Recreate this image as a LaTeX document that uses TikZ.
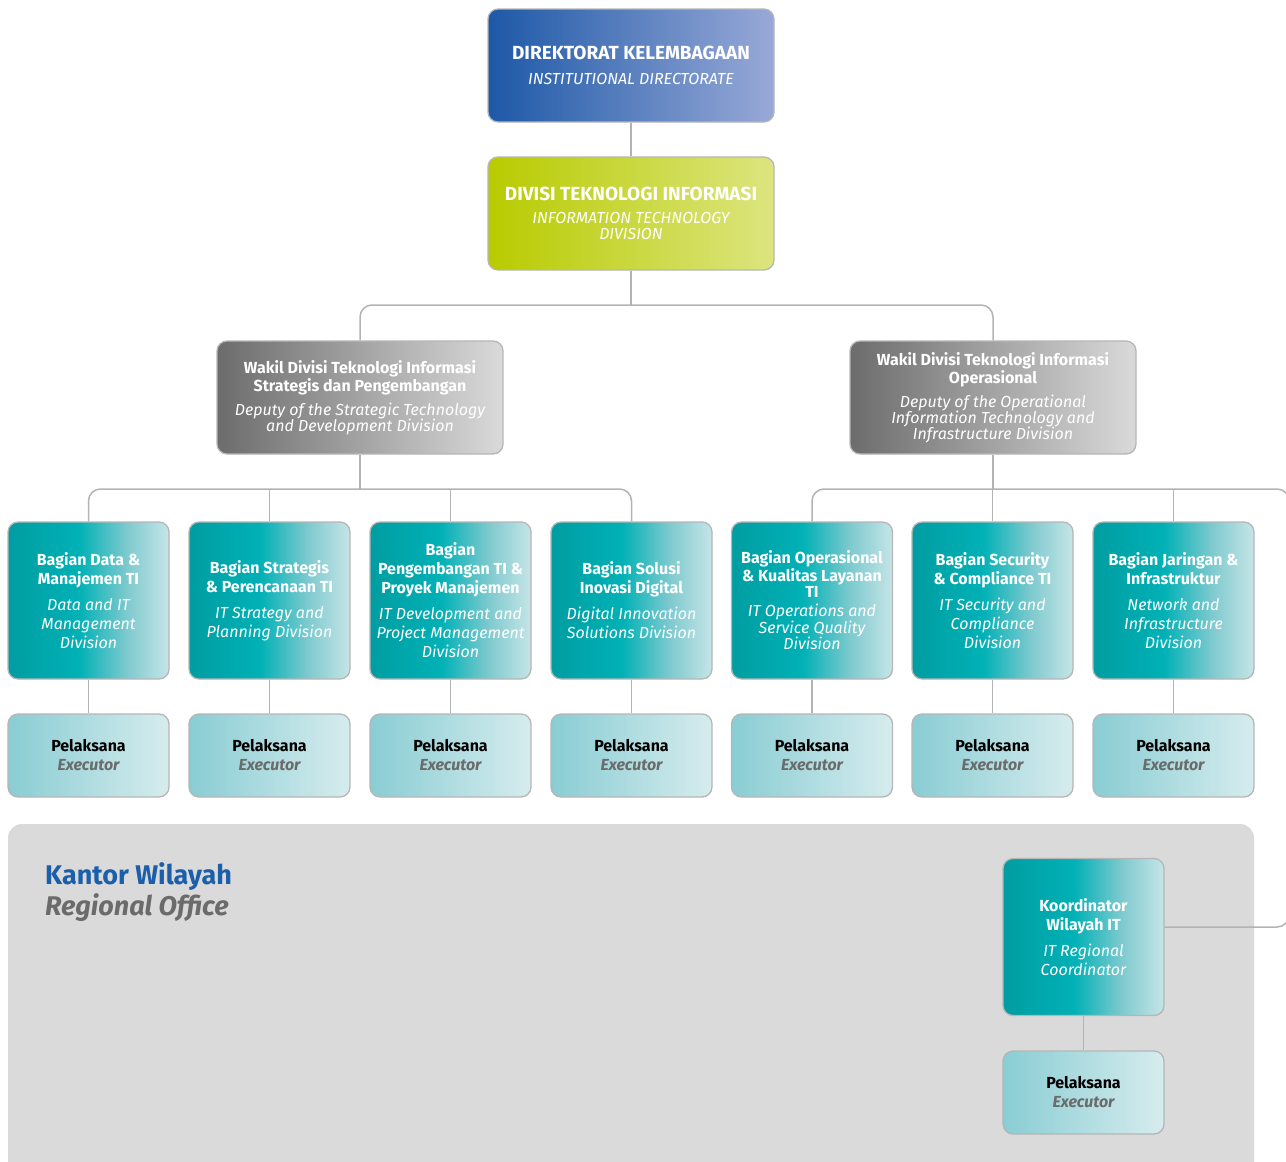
\documentclass[tikz,border=0pt]{standalone}
\usepackage{fontspec}
\setmainfont{Fira Sans}
\usetikzlibrary{calc}

% palette
\definecolor{dirA}{HTML}{1D58A7}
\definecolor{dirB}{HTML}{98A9D7}
\definecolor{grnA}{HTML}{B8CB00}
\definecolor{grnB}{HTML}{DCE57F}
\definecolor{gryA}{HTML}{6C6C6C}
\definecolor{gryB}{HTML}{DADADA}
\definecolor{tlA}{HTML}{009DA1}
\definecolor{tlB}{HTML}{00B1B6}
\definecolor{tlC}{HTML}{7FCACF}
\definecolor{tlD}{HTML}{C6E5E7}
\definecolor{exA}{HTML}{89CDD3}
\definecolor{exB}{HTML}{D6ECEE}
\definecolor{edge}{HTML}{B6B6B6}
\definecolor{wire}{HTML}{B3B3B3}
\definecolor{regbg}{HTML}{DADADA}
\definecolor{regblue}{HTML}{1B5EAA}
\definecolor{txtgray}{HTML}{6B6B6B}

% horizontal colour ramps (25bp..75bp spans the filled path)
\pgfdeclarehorizontalshading{dirshade}{100bp}{color(0bp)=(dirA); color(25bp)=(dirA); color(75bp)=(dirB); color(100bp)=(dirB)}
\pgfdeclarehorizontalshading{grnshade}{100bp}{color(0bp)=(grnA); color(25bp)=(grnA); color(75bp)=(grnB); color(100bp)=(grnB)}
\pgfdeclarehorizontalshading{gryshade}{100bp}{color(0bp)=(gryA); color(25bp)=(gryA); color(75bp)=(gryB); color(100bp)=(gryB)}
\pgfdeclarehorizontalshading{tlshade}{100bp}{color(0bp)=(tlA); color(25bp)=(tlA); color(47bp)=(tlB); color(62bp)=(tlC); color(75bp)=(tlD); color(100bp)=(tlD)}
\pgfdeclarehorizontalshading{exshade}{100bp}{color(0bp)=(exA); color(25bp)=(exA); color(75bp)=(exB); color(100bp)=(exB)}

% a tall invisible strut on the first line sets the text a little lower in its box
\newcommand{\topstrut}{\rule{0pt}{1em}}

\tikzset{
  card/.style={rounded corners=10pt, draw=edge, line width=1.3pt, inner sep=0pt,
    align=center, text=white, execute at begin node=\topstrut},
  bigcard/.style={card, minimum width=286pt, minimum height=113pt},
  dircard/.style={bigcard, shading=dirshade},
  grncard/.style={bigcard, shading=grnshade},
  deputy/.style={card, shading=gryshade, minimum width=286pt, minimum height=113pt,
    font=\fontsize{16}{16}\selectfont},
  unit/.style={card, shading=tlshade, minimum width=161pt, minimum height=157pt,
    font=\fontsize{16}{19}\selectfont},
  tightunit/.style={unit, font=\fontsize{16}{16.5}\selectfont},
  exec/.style={card, shading=exshade, minimum width=161pt, minimum height=83pt,
    font=\fontsize{16}{19}\selectfont, text=black},
  conn/.style={draw=wire, line width=1.5pt, rounded corners=12pt},
  heading/.style={anchor=base west, inner sep=0pt, font=\fontsize{27}{30}\selectfont\bfseries},
}

\newcommand{\execlabel}{\textbf{Pelaksana}\\{\color{txtgray}\bfseries\itshape Executor}}

\begin{document}
\begin{tikzpicture}[x=1pt,y=-1pt]
  \clip (0,0) rectangle (1286,1162);

  % regional office backdrop
  \fill[regbg, rounded corners=14pt] (8,824) rectangle (1254,1200);
  \node[heading, text=regblue] (kw) at (45,884) {Kantor Wilayah};
  \node[heading, text=txtgray, font=\fontsize{27}{30}\selectfont\bfseries\itshape] (ro) at (45,915) {Regional Office};

  % head office
  \node[dircard, font=\fontsize{16}{25}\selectfont] (dir) at (631,65.5)
    {{\fontsize{19}{25}\selectfont\bfseries DIREKTORAT KELEMBAGAAN}\\{\itshape INSTITUTIONAL DIRECTORATE}};
  \node[grncard, font=\fontsize{16}{16}\selectfont] (itd) at (631,213.5)
    {{\fontsize{19}{16}\selectfont\bfseries DIVISI TEKNOLOGI INFORMASI}\\[7pt]{\itshape INFORMATION TECHNOLOGY}\\{\itshape DIVISION}};

  % deputies
  \node[deputy] (depS) at (360,397.5)
    {\textbf{Wakil Divisi Teknologi Informasi}\\\textbf{Strategis dan Pengembangan}\\[7pt]{\itshape Deputy of the Strategic Technology}\\{\itshape and Development Division}};
  \node[deputy] (depO) at (993,397.5)
    {\textbf{Wakil Divisi Teknologi Informasi}\\\textbf{Operasional}\\[7pt]{\itshape Deputy of the Operational}\\{\itshape Information Technology and}\\{\itshape Infrastructure Division}};

  % units
  \node[unit] (u1) at (88.5,600.5)
    {\textbf{Bagian Data \&}\\\textbf{Manajemen TI}\\[7pt]{\itshape Data and IT}\\{\itshape Management}\\{\itshape Division}};
  \node[unit] (u2) at (269.5,600.5)
    {\textbf{Bagian Strategis}\\\textbf{\& Perencanaan TI}\\[7pt]{\itshape IT Strategy and}\\{\itshape Planning Division}};
  \node[unit] (u3) at (450.5,600.5)
    {\textbf{Bagian}\\\textbf{Pengembangan TI \&}\\\textbf{Proyek Manajemen}\\[7pt]{\itshape IT Development and}\\{\itshape Project Management}\\{\itshape Division}};
  \node[unit] (u4) at (631.5,600.5)
    {\textbf{Bagian Solusi}\\\textbf{Inovasi Digital}\\[7pt]{\itshape Digital Innovation}\\{\itshape Solutions Division}};
  \node[tightunit] (u5) at (812,600.5)
    {\textbf{Bagian Operasional}\\\textbf{\& Kualitas Layanan}\\\textbf{TI}\\[2.5pt]{\itshape IT Operations and}\\{\itshape Service Quality}\\{\itshape Division}};
  \node[unit] (u6) at (992.5,600.5)
    {\textbf{Bagian Security}\\\textbf{\& Compliance TI}\\[7pt]{\itshape IT Security and}\\{\itshape Compliance}\\{\itshape Division}};
  \node[unit] (u7) at (1173.5,600.5)
    {\textbf{Bagian Jaringan \&}\\\textbf{Infrastruktur}\\[7pt]{\itshape Network and}\\{\itshape Infrastructure}\\{\itshape Division}};
  \node[unit] (rc) at (1083.5,937)
    {\textbf{Koordinator}\\\textbf{Wilayah IT}\\[7pt]{\itshape IT Regional}\\{\itshape Coordinator}};

  % executors
  \foreach \u/\x in {u1/88.5,u2/269.5,u3/450.5,u4/631.5,u5/812,u6/992.5,u7/1173.5}
    \node[exec] (e\u) at (\x,755.5) {\execlabel};
  \node[exec] (erc) at (1083.5,1092.5) {\execlabel};

  % connectors
  \coordinate (busTop) at (631,305);
  \coordinate (busL) at (360,489);
  \coordinate (busR) at (993,489);
  \coordinate (rimR) at (1289,927);

  \draw[conn] (dir.south) -- (itd.north);
  \draw[conn] (itd.south) -- (busTop);
  \draw[conn] (depS.north) |- (busTop) -| (depO.north);

  \draw[conn] (depS.south) -- (busL);
  \draw[conn] (u1.north) |- (busL) -| (u4.north);
  \draw[conn] (u2.north) -- (u2.north |- busL);
  \draw[conn] (u3.north) -- (u3.north |- busL);

  \draw[conn] (depO.south) -- (busR);
  \draw[conn] (u5.north) |- (busR) -| (rimR) -- ([yshift=10pt]rc.east);
  \draw[conn] (u6.north) -- (u6.north |- busR);
  \draw[conn] (u7.north) -- (u7.north |- busR);

  \foreach \u in {u1,u2,u3,u4,u5,u6,u7,rc}
    \draw[conn] (\u.south) -- (e\u.north);
\end{tikzpicture}
\end{document}
